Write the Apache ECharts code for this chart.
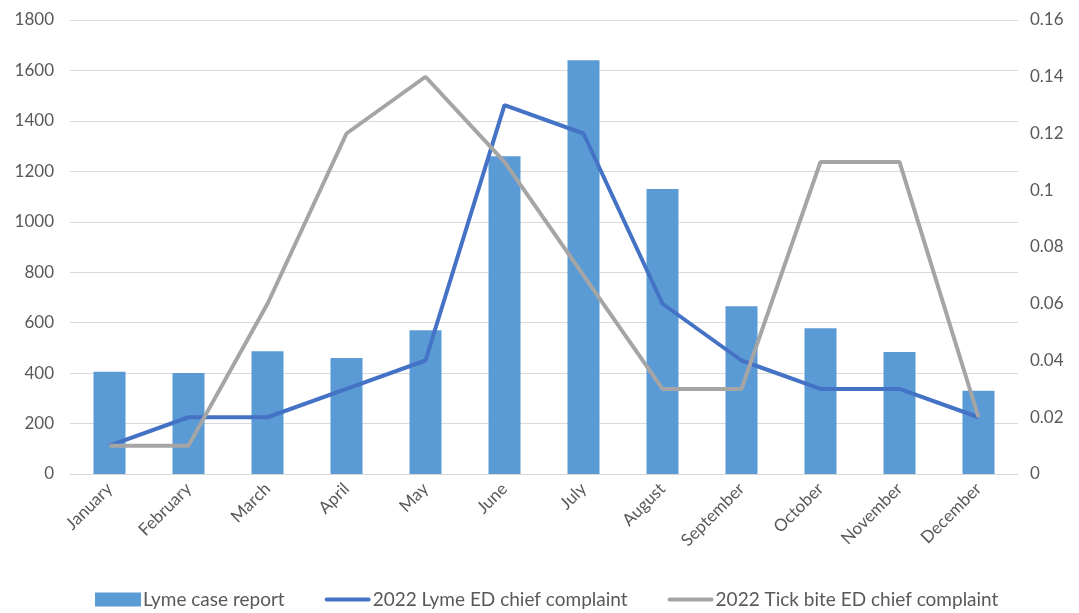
<!DOCTYPE html>
<html>
<head>
<meta charset="utf-8">
<script src="https://cdn.jsdelivr.net/npm/echarts@6/dist/echarts.min.js"></script>
<style>
  html, body { margin: 0; padding: 0; background: #fff; }
  #chart { width: 1079px; height: 613px; }
</style>
</head>
<body>
<div id="chart"></div>
<script>
// Monthly Lyme case reports with ED chief-complaint rates (2022)
const months = ['January', 'February', 'March', 'April', 'May', 'June', 'July',
  'August', 'September', 'October', 'November', 'December'];
const lymeCases = [405, 400, 487, 460, 570, 1260, 1640, 1130, 665, 578, 484, 330];
const lymeED = [0.01, 0.02, 0.02, 0.03, 0.04, 0.13, 0.12, 0.06, 0.04, 0.03, 0.03, 0.02];
const tickBiteED = [0.01, 0.01, 0.06, 0.12, 0.14, 0.11, 0.07, 0.03, 0.03, 0.11, 0.11, 0.02];
const seriesNames = ['Lyme case report', '2022 Lyme ED chief complaint', '2022 Tick bite ED chief complaint'];

const FONT = 'Lato, "Open Sans", sans-serif';
const TEXT = '#595959';

// Legend swatch for the line series: a thick rounded stroke centred in a 48x14 box
const LINE_ICON = 'path://M0,0 L0,0 M48,14 L48,14 M2,5 L46,5 A2,2 0 0 1 46,9 L2,9 A2,2 0 0 1 2,5 Z';

const chart = echarts.init(document.getElementById('chart'), null, { renderer: 'canvas' });
chart.setOption({
  animation: false,
  textStyle: { fontFamily: FONT },
  grid: { left: 70, right: 61, top: 20, bottom: 139, containLabel: false },
  legend: {
    bottom: -1,
    left: 90,
    padding: [5, 5, 5, 5],
    itemGap: 40,
    itemWidth: 46,
    itemHeight: 14,
    textStyle: { fontSize: 19, color: TEXT, fontFamily: FONT, padding: [0, 0, 0, -3] },
    data: [
      { name: seriesNames[0], icon: 'rect' },
      { name: seriesNames[1], icon: LINE_ICON },
      { name: seriesNames[2], icon: LINE_ICON }
    ]
  },
  xAxis: {
    type: 'category',
    data: months,
    axisLine: { lineStyle: { color: '#d9d9d9', width: 1 } },
    axisTick: { show: false },
    axisLabel: {
      rotate: 45, interval: 0, fontSize: 17, color: TEXT, fontFamily: FONT, margin: 12
    }
  },
  yAxis: [
    {
      type: 'value', min: 0, max: 1800, interval: 200,
      axisLine: { show: false }, axisTick: { show: false },
      axisLabel: { fontSize: 17, color: TEXT, fontFamily: FONT, margin: 16, formatter: v => String(v) },
      splitLine: { lineStyle: { color: '#d9d9d9', width: 1 } }
    },
    {
      type: 'value', min: 0, max: 0.16, interval: 0.02,
      axisLine: { show: false }, axisTick: { show: false },
      axisLabel: {
        fontSize: 17, color: TEXT, fontFamily: FONT, margin: 12,
        formatter: v => String(parseFloat(v.toFixed(2)))
      },
      splitLine: { show: false }
    }
  ],
  series: [
    {
      name: seriesNames[0], type: 'bar', data: lymeCases, yAxisIndex: 0,
      barWidth: 32, itemStyle: { color: '#5B9BD5' }
    },
    {
      name: seriesNames[1], type: 'line', data: lymeED, yAxisIndex: 1,
      symbol: 'none', lineStyle: { color: '#4472C4', width: 4 },
      itemStyle: { color: '#4472C4' }
    },
    {
      name: seriesNames[2], type: 'line', data: tickBiteED, yAxisIndex: 1,
      symbol: 'none', lineStyle: { color: '#A5A5A5', width: 4 },
      itemStyle: { color: '#A5A5A5' }
    }
  ]
});
</script>
</body>
</html>
